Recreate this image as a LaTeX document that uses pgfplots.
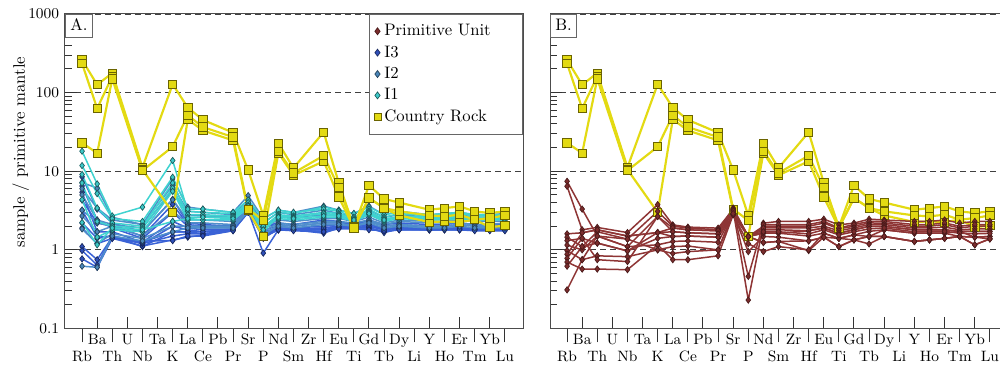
\documentclass[border=0pt]{standalone}
\usepackage{pgfplots}
\pgfplotsset{compat=1.18}
\usepackage{pgfplotstable}

\definecolor{cryel}{HTML}{E3DA12}
\definecolor{cryeledge}{HTML}{6B6400}
\definecolor{ithree}{HTML}{3A62D6}
\definecolor{ithreemk}{HTML}{2F4FB8}
\definecolor{itwo}{HTML}{4F8FCB}
\definecolor{itwomk}{HTML}{4A86B8}
\definecolor{ione}{HTML}{3FD3D0}
\definecolor{ionemk}{HTML}{3CC8C8}
\definecolor{prim}{HTML}{8E3535}
\definecolor{primmk}{HTML}{7A2C2C}

\pgfplotstableread{
x c1 c2 c3
0 260 235 23
1 126 63 17
2 177 161 150
4 11.2 10.5 10.2
6 128 3.0 20.5
7 64.5 45.7 51.5
8 45 33 36.5
10 31 24.7 27.2
11 10.4 3.15 3.3
12 2.74 1.48 2.37
13 22.7 17.1 18
14 11 8.9 9.5
16 31.4 13.4 15.8
17 7.1 4.7 6.2
18 1.95 1.9 1.9
19 6.6 4.57 4.57
20 4.45 3.4 3.4
21 4.0 2.74 3.09
23 3.24 2.26 2.74
24 3.4 2.3 2.67
25 3.57 2.26 2.8
26 3.09 2.42 2.42
27 2.94 1.95 2.54
28 3.09 2.03 2.74
}\crtab

\pgfplotstableread{
x a b c d e f
0 18 11.8 9.1 7.1 4.35 2.23
1 6.9 5.2 3.4 2.3 1.45 1.16
2 2.7 2.5 2.2 2.0 1.8 1.9
4 3.5 2.3 2.0 1.9 1.7 1.8
6 13.7 8.4 7.1 6.1 5.56 2.3
7 3.1 3.3 2.8 2.6 2.4 2.5
8 3.0 3.3 2.8 2.6 2.4 2.6
10 2.9 3.0 2.7 2.6 2.4 2.5
11 3.8 4.3 4.0 3.7 3.4 3.6
12 2.2 2.5 1.95 1.7 2.0 1.8
13 3.0 3.2 2.8 2.7 2.5 2.6
14 2.9 3.0 2.7 2.6 2.4 2.5
16 3.5 3.3 3.0 2.9 2.6 2.7
17 3.2 3.1 2.9 2.8 2.6 2.7
18 2.9 2.6 2.5 2.4 2.3 2.4
19 3.5 3.3 3.1 3.0 2.8 2.9
20 2.8 2.6 2.4 2.5 2.3 2.4
21 3.0 2.9 2.7 2.6 2.5 2.6
23 2.8 2.7 2.6 2.5 2.4 2.5
24 2.9 2.8 2.6 2.5 2.4 2.6
25 3.0 2.9 2.7 2.6 2.5 2.6
26 2.8 2.7 2.6 2.5 2.4 2.5
27 2.8 2.7 2.5 2.5 2.4 2.4
28 2.8 2.7 2.6 2.5 2.4 2.5
}\ionetab

\pgfplotstableread{
x a b c d e f g
0 7.2 6.0 5.0 3.2 2.7 1.85 0.62
1 6.1 3.4 2.4 2.2 1.7 1.2 0.6
2 2.6 2.4 2.1 2.0 2.0 1.6 1.5
4 2.1 2.1 1.9 1.7 1.5 1.4 1.3
6 8.0 6.6 5.8 4.35 3.1 2.0 1.7
7 3.5 3.1 2.8 2.4 2.2 2.0 1.9
8 3.3 3.0 2.7 2.4 2.2 2.0 1.9
10 3.0 2.8 2.6 2.3 2.1 2.0 1.9
11 4.9 4.3 4.0 3.6 3.4 3.2 3.1
12 2.5 2.2 2.0 1.95 1.7 1.5 1.6
13 3.2 3.0 2.6 2.4 2.2 2.1 2.0
14 3.0 2.8 2.6 2.3 2.1 2.0 1.9
16 3.6 3.2 2.8 2.5 2.3 2.2 2.1
17 3.2 2.9 2.7 2.5 2.3 2.2 2.1
18 2.9 2.6 2.4 2.3 2.2 2.0 2.0
19 3.6 3.2 2.9 2.6 2.4 2.3 2.2
20 2.8 2.6 2.4 2.2 2.1 2.0 1.9
21 3.1 2.8 2.6 2.4 2.3 2.1 2.0
23 2.8 2.6 2.4 2.3 2.2 2.0 1.9
24 2.9 2.6 2.5 2.3 2.2 2.0 1.9
25 3.0 2.8 2.5 2.4 2.2 2.1 2.0
26 2.8 2.6 2.4 2.3 2.1 2.0 1.9
27 2.8 2.6 2.4 2.3 2.1 2.0 1.9
28 2.9 2.6 2.4 2.3 2.2 2.0 1.9
}\itwotab

\pgfplotstableread{
x a b c d e f g h i j
0 8.5 6.5 5.4 4.3 3.2 2.2 1.9 1.1 0.98 0.77
1 3.3 2.4 1.7 2.2 1.45 1.4 1.2 0.75 0.64 0.6
2 2.2 1.9 1.7 2.0 1.5 1.5 1.4 1.45 1.5 1.4
4 1.7 1.4 1.25 1.5 1.2 1.1 1.12 1.2 1.25 1.3
6 4.4 3.0 2.3 3.8 2.0 1.7 1.34 1.5 1.7 1.31
7 2.2 2.0 1.9 2.1 1.8 1.7 1.45 1.6 1.7 1.5
8 2.1 1.9 1.8 2.0 1.7 1.6 1.55 1.6 1.7 1.5
10 2.0 1.9 1.8 2.0 1.8 1.8 1.76 1.8 1.85 1.75
11 4.0 3.6 3.4 3.8 3.1 3.0 3.1 3.2 3.3 3.0
12 1.95 1.8 1.7 2.0 1.45 1.5 0.91 1.4 1.5 1.6
13 2.1 2.0 1.9 2.2 1.8 1.8 1.8 1.85 1.9 1.8
14 2.0 1.9 1.8 2.1 1.8 1.8 1.8 1.8 1.85 1.75
16 2.2 2.0 1.9 2.4 1.8 1.7 1.63 1.8 1.9 1.7
17 2.2 2.1 2.0 2.3 1.9 1.9 1.9 1.95 2.0 1.85
18 2.1 1.95 1.9 2.1 1.9 1.9 1.9 1.9 2.0 1.85
19 2.3 2.1 2.0 2.4 1.9 1.9 1.9 2.0 2.1 1.8
20 2.0 1.85 1.8 2.1 1.7 1.7 1.66 1.8 1.9 1.75
21 2.1 2.0 1.9 2.2 1.85 1.8 1.85 1.9 2.0 1.8
23 2.0 1.9 1.8 2.1 1.8 1.8 1.85 1.9 1.9 1.8
24 2.0 1.9 1.85 2.1 1.8 1.8 1.85 1.9 1.9 1.8
25 2.1 2.0 1.9 2.2 1.85 1.8 1.8 1.9 1.95 1.8
26 2.0 1.85 1.8 2.1 1.8 1.8 1.8 1.8 1.85 1.75
27 2.0 1.9 1.8 2.1 1.8 1.8 1.8 1.8 1.9 1.75
28 2.0 1.9 1.8 2.1 1.8 1.8 1.8 1.85 1.9 1.75
}\ithreetab

\pgfplotstableread{
x p1 p2 p3 p4 p5 p6 p7 p8 p9 p10 p11 p12
0 7.45 6.45 1.6 1.45 1.31 1.15 0.98 0.88 0.78 0.7 0.62 0.31
1 3.3 1.8 1.65 1.1 1.4 1.0 0.75 1.65 1.4 0.57 1.1 0.75
2 1.5 1.93 1.8 1.7 1.22 1.5 0.84 1.8 0.75 0.57 1.22 1.5
4 1.1 1.66 1.5 1.37 0.97 1.1 0.82 1.5 0.71 0.56 0.97 1.37
6 2.66 3.76 1.66 3.09 1.4 1.16 1.0 1.66 2.66 1.16 1.66 1.0
7 1.9 2.08 1.7 2.0 1.48 1.28 1.1 1.9 1.7 0.75 1.48 0.9
8 1.8 1.95 1.65 1.9 1.5 1.3 1.12 1.8 1.65 0.75 1.5 0.95
10 1.75 1.89 1.6 1.8 1.45 1.25 1.0 1.75 1.6 0.84 1.45 1.0
11 3.4 3.3 3.1 3.2 2.8 2.9 3.0 3.3 3.2 2.8 3.1 2.9
12 1.48 0.46 1.48 0.23 1.48 0.95 1.48 1.48 1.48 1.2 1.48 1.48
13 2.0 2.19 1.8 2.1 1.63 1.48 1.24 1.9 1.63 0.95 1.7 1.24
14 2.0 2.3 1.8 2.1 1.63 1.45 1.28 1.9 1.63 1.1 1.7 1.28
16 2.0 2.3 1.75 2.1 1.5 1.3 0.98 1.9 1.75 1.0 1.6 1.3
17 2.19 2.46 1.9 2.3 1.63 1.45 1.45 2.0 1.9 1.63 1.8 1.45
18 1.85 2.08 1.63 1.9 1.4 1.4 1.1 1.75 1.63 1.4 1.55 1.1
19 2.0 2.19 1.8 2.1 1.55 1.34 1.34 1.9 1.8 1.55 1.7 1.34
20 2.2 2.46 1.99 2.3 1.72 1.48 1.19 2.1 1.99 1.48 1.85 1.48
21 2.19 2.4 1.99 2.3 1.8 1.48 1.48 2.1 1.99 1.8 1.9 1.48
23 2.0 2.3 1.8 2.1 1.63 1.28 1.28 1.9 1.8 1.63 1.7 1.28
24 2.0 2.3 1.8 2.1 1.63 1.34 1.34 1.9 1.8 1.63 1.72 1.34
25 2.1 2.4 1.8 2.2 1.63 1.4 1.4 1.95 1.8 1.63 1.72 1.4
26 1.9 2.19 1.72 2.0 1.48 1.48 1.48 1.8 1.72 1.72 1.63 1.48
27 2.0 2.3 1.72 2.1 1.45 1.45 1.16 1.85 1.72 1.45 1.6 1.16
28 2.0 2.3 1.72 2.1 1.48 1.38 1.38 1.85 1.72 1.48 1.62 1.38
}\primtab

\tikzset{
  pustyle/.style={prim, line width=0.9pt, mark=diamond*, mark size=1.9pt,
    mark options={fill=primmk, draw=primmk!60!black, line width=0.4pt}},
  i3style/.style={ithree, line width=0.9pt, mark=diamond*, mark size=1.9pt,
    mark options={fill=ithreemk, draw=ithreemk!50!black, line width=0.4pt}},
  i2style/.style={itwo, line width=0.9pt, mark=diamond*, mark size=1.9pt,
    mark options={fill=itwomk, draw=itwomk!50!black, line width=0.4pt}},
  i1style/.style={ione, line width=0.9pt, mark=diamond*, mark size=1.9pt,
    mark options={fill=ionemk, draw=ionemk!45!black, line width=0.4pt}},
  crstyle/.style={cryel, line width=1.3pt, mark=square*, mark size=2.5pt,
    mark options={fill=cryel, draw=cryeledge, line width=0.5pt}},
}

\begin{document}
\begin{tikzpicture}
\begin{axis}[at={(0pt,0pt)}, anchor=south west,
    scale only axis, width=274.8pt, height=188.7pt,
    xmin=-1.13, xmax=29.2,
    ymode=log, ymin=0.1, ymax=1000,
    ytick={0.1,1,10,100,1000},
    minor ytick={0.2,0.3,0.4,0.5,0.6,0.7,0.8,0.9,2,3,4,5,6,7,8,9,20,30,40,50,60,70,80,90,200,300,400,500,600,700,800,900},
    axis line style={black!70, line width=0.6pt},
    ymajorgrids,
    major grid style={black!75, line width=0.5pt, dash pattern=on 3.6pt off 2.4pt},
    ytick pos=left, xtick pos=bottom, tick align=inside,
    major tick length=7.2pt, minor tick length=4pt,
    tick style={black!80, line width=0.6pt},
    xtick={1,3,...,27},
    xticklabels={Ba,U,Ta,La,Pb,Sr,Nd,Zr,Eu,Gd,Dy,Y,Er,Yb},
    extra x ticks={0,2,...,28},
    extra x tick labels={Rb,Th,Nb,K,Ce,Pr,P,Sm,Hf,Ti,Tb,Li,Ho,Tm,Lu},
    extra x tick style={tick align=outside, major tick length=8.4pt,
      xticklabel style={yshift=-2.1pt}},
    xticklabel style={anchor=base, yshift=-9.3pt, font=\small, inner sep=0pt},
    yticklabel style={font=\small},
  yticklabels={0.1,1,10,100,1000},
  ylabel={sample / primitive mantle},
  every axis y label/.style={at={(ticklabel cs:0.561,-6pt)}, rotate=90, anchor=south, inner sep=2pt},
  legend image code/.code={\draw[mark repeat=2,mark phase=2,#1] plot coordinates {(0cm,0cm)(0.15cm,0cm)(0.3cm,0cm)};},
  legend style={at={(1,1)}, anchor=north east, draw=black!60, font=\normalsize,
    row sep=0.5pt, inner xsep=3pt, inner ysep=4pt},
  legend cell align=left]
\pgfplotsinvokeforeach{a,b,c,d,e,f,g,h,i,j}{\addplot[i3style, forget plot] table[x=x,y=#1]{\ithreetab};}
\pgfplotsinvokeforeach{a,b,c,d,e,f,g}{\addplot[i2style, forget plot] table[x=x,y=#1]{\itwotab};}
\pgfplotsinvokeforeach{a,b,c,d,e,f}{\addplot[i1style, forget plot] table[x=x,y=#1]{\ionetab};}
\pgfplotsinvokeforeach{c1,c2,c3}{\addplot[crstyle, forget plot] table[x=x,y=#1]{\crtab};}
\addlegendimage{only marks, mark=diamond*, mark size=2.1pt, mark options={fill=primmk, draw=primmk!60!black, line width=0.4pt}}
\addlegendentry{\makebox[78pt][l]{Primitive Unit}}
\addlegendimage{only marks, mark=diamond*, mark size=2.1pt, mark options={fill=ithreemk, draw=ithreemk!50!black, line width=0.4pt}}
\addlegendentry{I3}
\addlegendimage{only marks, mark=diamond*, mark size=2.1pt, mark options={fill=itwomk, draw=itwomk!50!black, line width=0.4pt}}
\addlegendentry{I2}
\addlegendimage{only marks, mark=diamond*, mark size=2.1pt, mark options={fill=ionemk, draw=ionemk!45!black, line width=0.4pt}}
\addlegendentry{I1}
\addlegendimage{only marks, mark=square*, mark size=2.1pt, mark options={fill=cryel, draw=cryeledge, line width=0.5pt}}
\addlegendentry{Country Rock}
\node[draw=black!60, fill=white, anchor=north west, inner sep=3pt, text height=7pt, text depth=1pt] at (rel axis cs:0,1) {A.};
\end{axis}
\begin{axis}[at={(291pt,0pt)}, anchor=south west,
    scale only axis, width=274.8pt, height=188.7pt,
    xmin=-1.13, xmax=29.2,
    ymode=log, ymin=0.1, ymax=1000,
    ytick={0.1,1,10,100,1000},
    minor ytick={0.2,0.3,0.4,0.5,0.6,0.7,0.8,0.9,2,3,4,5,6,7,8,9,20,30,40,50,60,70,80,90,200,300,400,500,600,700,800,900},
    axis line style={black!70, line width=0.6pt},
    ymajorgrids,
    major grid style={black!75, line width=0.5pt, dash pattern=on 3.6pt off 2.4pt},
    ytick pos=left, xtick pos=bottom, tick align=inside,
    major tick length=7.2pt, minor tick length=4pt,
    tick style={black!80, line width=0.6pt},
    xtick={1,3,...,27},
    xticklabels={Ba,U,Ta,La,Pb,Sr,Nd,Zr,Eu,Gd,Dy,Y,Er,Yb},
    extra x ticks={0,2,...,28},
    extra x tick labels={Rb,Th,Nb,K,Ce,Pr,P,Sm,Hf,Ti,Tb,Li,Ho,Tm,Lu},
    extra x tick style={tick align=outside, major tick length=8.4pt,
      xticklabel style={yshift=-2.1pt}},
    xticklabel style={anchor=base, yshift=-9.3pt, font=\small, inner sep=0pt},
    yticklabel style={font=\small},
  yticklabels={}]
\pgfplotsinvokeforeach{c1,c2,c3}{\addplot[crstyle] table[x=x,y=#1]{\crtab};}
\pgfplotsinvokeforeach{p1,p2,p3,p4,p5,p6,p7,p8,p9,p10,p11,p12}{\addplot[pustyle] table[x=x,y=#1]{\primtab};}
\node[draw=black!60, fill=white, anchor=north west, inner sep=3pt, text height=7pt, text depth=1pt] at (rel axis cs:0,1) {B.};
\end{axis}
\pgfresetboundingbox
\path[use as bounding box] (-39pt,-25.5pt) rectangle (561pt,197.1pt);
\end{tikzpicture}
\end{document}
